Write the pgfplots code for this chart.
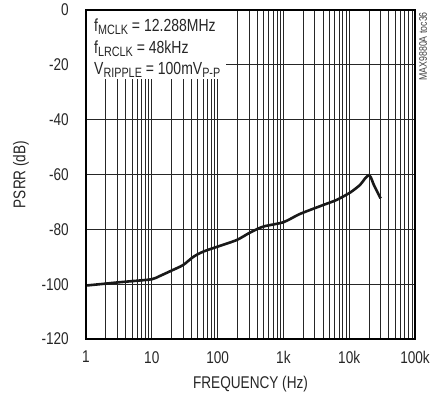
\documentclass[border=0pt]{standalone}
\usepackage{fontspec}
\setmainfont{Liberation Sans}[FakeStretch=0.8]
\usepackage{pgfplots}
\pgfplotsset{compat=1.18}
\begin{document}
\begin{tikzpicture}
\begin{axis}[
  name=ax,
  at={(0,0)}, anchor=south west,
  scale only axis, width=329pt, height=329pt,
  xmode=log, xmin=1, xmax=100000,
  ymin=-120, ymax=0,
  xtick={1,10,100,1000,10000,100000},
  xticklabels={1,10,100,1k,10k,100k},
  ytick={-120,-100,-80,-60,-40,-20,0},
  yticklabels={-120,-100,-80,-60,-40,-20,0},
  minor xtick={2,3,4,5,6,7,8,9,20,30,40,50,60,70,80,90,200,300,400,500,600,700,800,900,2000,3000,4000,5000,6000,7000,8000,9000,20000,30000,40000,50000,60000,70000,80000,90000},
  xmajorgrids, xminorgrids, ymajorgrids,
  grid style={black!85, line width=0.8pt},
  minor grid style={black!85, line width=0.8pt},
  major tick length=0pt, minor tick length=0pt,
  axis line style={draw=none},
  tick label style={font=\fontsize{17}{17}\selectfont, inner sep=0pt, text=black!85},
  xticklabel shift=12pt,
  yticklabel shift=17pt,
  xlabel={FREQUENCY (Hz)},
  ylabel={PSRR (dB)},
  label style={font=\fontsize{17}{17}\selectfont, inner sep=0pt, text=black!85},
  xlabel style={at={(axis description cs:0.5,-0.137)}, anchor=center},
  ylabel style={at={(axis description cs:-0.198,0.5)}, anchor=center},
]
\node[fill=white, anchor=north west, inner sep=0pt, minimum width=140pt, minimum height=69pt] at (rel axis cs:0,1) {};
\addplot[black!90, line width=2.6pt, smooth, tension=0.45] coordinates {
(1,-100.5) (2,-99.8) (2.9,-99.4) (5,-98.9) (10,-98.2) (13.3,-97.0) (21,-94.8)
(30,-93.0) (43,-90.0) (61,-88.1) (100,-86.3) (195,-83.9) (310,-81.2) (495,-79.0)
(1000,-77.4) (1780,-74.4) (4050,-71.1) (6400,-69.3) (10300,-66.6) (14600,-63.8)
(17200,-61.6) (19600,-60.3) (21300,-61.0) (23500,-63.6) (30000,-68.7)
};
\end{axis}
\draw[line width=2pt, black] (ax.south west) rectangle (ax.north east);
\begin{scope}[font=\fontsize{17.5}{17.5}\selectfont, text=black!85]
\newcommand{\sub}[1]{\raisebox{-0.3ex}{\fontsize{13.5}{13.5}\selectfont #1}}
\node[anchor=base west, inner sep=0pt] at (8pt,307pt) {f\sub{MCLK} = 12.288MHz};
\node[anchor=base west, inner sep=0pt] at (8pt,285.5pt) {f\sub{LRCLK} = 48kHz};
\node[anchor=base west, inner sep=0pt] at (8pt,264pt) {V\sub{RIPPLE} = 100mV\sub{P-P}};
\end{scope}
\node[rotate=90, anchor=east, inner sep=0pt, font=\fontsize{11}{11}\selectfont, text=black!75] at (337pt,327pt) {MAX9880A toc36};
\pgfresetboundingbox
\path[use as bounding box] (-86pt,-59pt) rectangle (357pt,339pt);
\end{tikzpicture}
\end{document}
